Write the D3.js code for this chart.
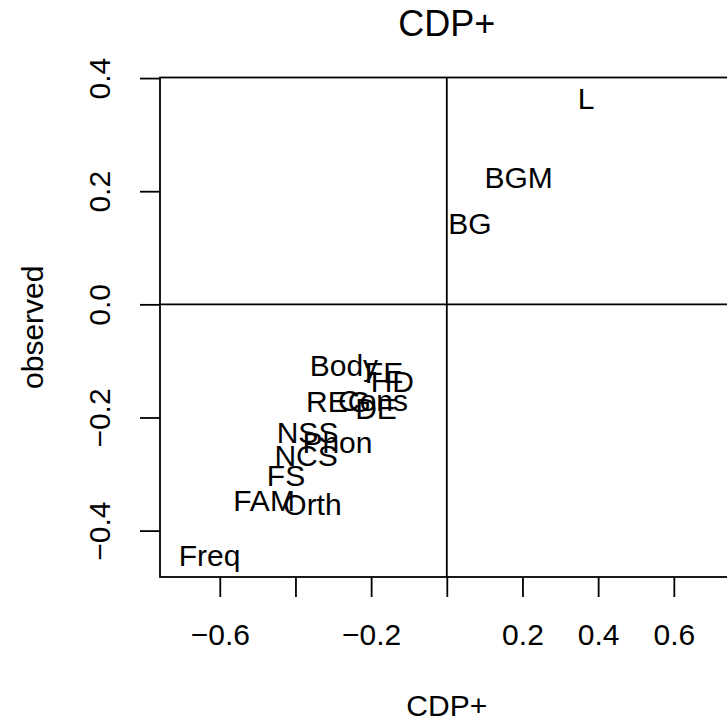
<!DOCTYPE html>
<html>
<head>
<meta charset="utf-8">
<script src="https://cdn.jsdelivr.net/npm/d3@7"></script>
<style>
  body { margin: 0; background: #fff; }
  svg text { font-family: "Liberation Sans", Arial, Helvetica, sans-serif; fill: #000; }
</style>
</head>
<body>
<div id="chart"></div>
<script>
// effect labels and their values: CDP+ (x) vs observed (y)
const labels = ["L", "BGM", "BG", "Freq", "FAM", "Orth", "FS", "NCS", "NSS", "Phon",
  "Body", "FE", "HD", "REG", "Cons", "DE"];
const cdpValues = [0.368, 0.190, 0.061, -0.627, -0.483, -0.355, -0.425, -0.372, -0.368, -0.289,
  -0.272, -0.166, -0.144, -0.286, -0.195, -0.187];
const observedValues = [0.365, 0.225, 0.1435, -0.4435, -0.347, -0.354, -0.302, -0.267, -0.226, -0.244,
  -0.107, -0.120, -0.135, -0.172, -0.170, -0.183];

const xTicks = [-0.6, -0.4, -0.2, 0, 0.2, 0.4, 0.6];
const xTickLabels = ["\u22120.6", "", "\u22120.2", "", "0.2", "0.4", "0.6"]; // R dropped the overlapping ones
const yTicks = [-0.4, -0.2, 0, 0.2, 0.4];
const yTickLabels = ["\u22120.4", "\u22120.2", "0.0", "0.2", "0.4"];

const width = 727;
const height = 722;
const fontSize = 30;

const x = d3.scaleLinear().domain([-0.758, 0.758]).range([160, 733.6]);
const y = d3.scaleLinear().domain([-0.482, 0.401]).range([577, 77.5]);

const svg = d3.select("#chart").append("svg")
  .attr("width", width)
  .attr("height", height);

// plot box (right side runs past the window, like the original)
svg.append("rect")
  .attr("x", x.range()[0])
  .attr("y", y.range()[1])
  .attr("width", x.range()[1] - x.range()[0])
  .attr("height", y.range()[0] - y.range()[1])
  .attr("fill", "none")
  .attr("stroke", "#000")
  .attr("stroke-width", 1.8);

// reference lines at zero
svg.append("line")
  .attr("x1", x.range()[0]).attr("x2", x.range()[1])
  .attr("y1", y(0)).attr("y2", y(0))
  .attr("stroke", "#000").attr("stroke-width", 1.8);
svg.append("line")
  .attr("x1", x(0)).attr("x2", x(0))
  .attr("y1", y.range()[0]).attr("y2", y.range()[1])
  .attr("stroke", "#000").attr("stroke-width", 1.8);

// x axis
const xAxis = svg.append("g")
  .attr("transform", `translate(0,${y.range()[0]})`)
  .call(d3.axisBottom(x).tickValues(xTicks).tickSize(20).tickFormat((d, i) => xTickLabels[i]));
xAxis.select(".domain").remove();
xAxis.selectAll(".tick line").attr("stroke", "#000").attr("stroke-width", 1.8);
xAxis.selectAll(".tick text")
  .attr("font-size", fontSize)
  .attr("font-family", null)
  .attr("y", 68)
  .attr("dy", 0);

// y axis, labels rotated parallel to the axis
const yAxis = svg.append("g")
  .attr("transform", `translate(${x.range()[0]},0)`)
  .call(d3.axisLeft(y).tickValues(yTicks).tickSize(20).tickFormat((d, i) => yTickLabels[i]));
yAxis.select(".domain").remove();
yAxis.selectAll(".tick line").attr("stroke", "#000").attr("stroke-width", 1.8);
yAxis.selectAll(".tick text")
  .attr("font-size", fontSize)
  .attr("font-family", null)
  .attr("x", null)
  .attr("dy", null)
  .attr("text-anchor", "middle")
  .attr("transform", "translate(-50,0) rotate(-90)");

// point labels
svg.append("g")
  .selectAll("text")
  .data(labels)
  .join("text")
  .attr("x", (d, i) => x(cdpValues[i]))
  .attr("y", (d, i) => y(observedValues[i]))
  .attr("dy", "0.36em")
  .attr("text-anchor", "middle")
  .attr("font-size", fontSize)
  .text(d => d);

// titles
svg.append("text")
  .attr("x", (x.range()[0] + x.range()[1]) / 2)
  .attr("y", 36)
  .attr("text-anchor", "middle")
  .attr("font-size", fontSize * 1.2)
  .text("CDP+");

svg.append("text")
  .attr("x", (x.range()[0] + x.range()[1]) / 2)
  .attr("y", 716)
  .attr("text-anchor", "middle")
  .attr("font-size", fontSize)
  .text("CDP+");

svg.append("text")
  .attr("transform", `translate(43,${(y.range()[0] + y.range()[1]) / 2}) rotate(-90)`)
  .attr("text-anchor", "middle")
  .attr("font-size", fontSize)
  .text("observed");
</script>
</body>
</html>
